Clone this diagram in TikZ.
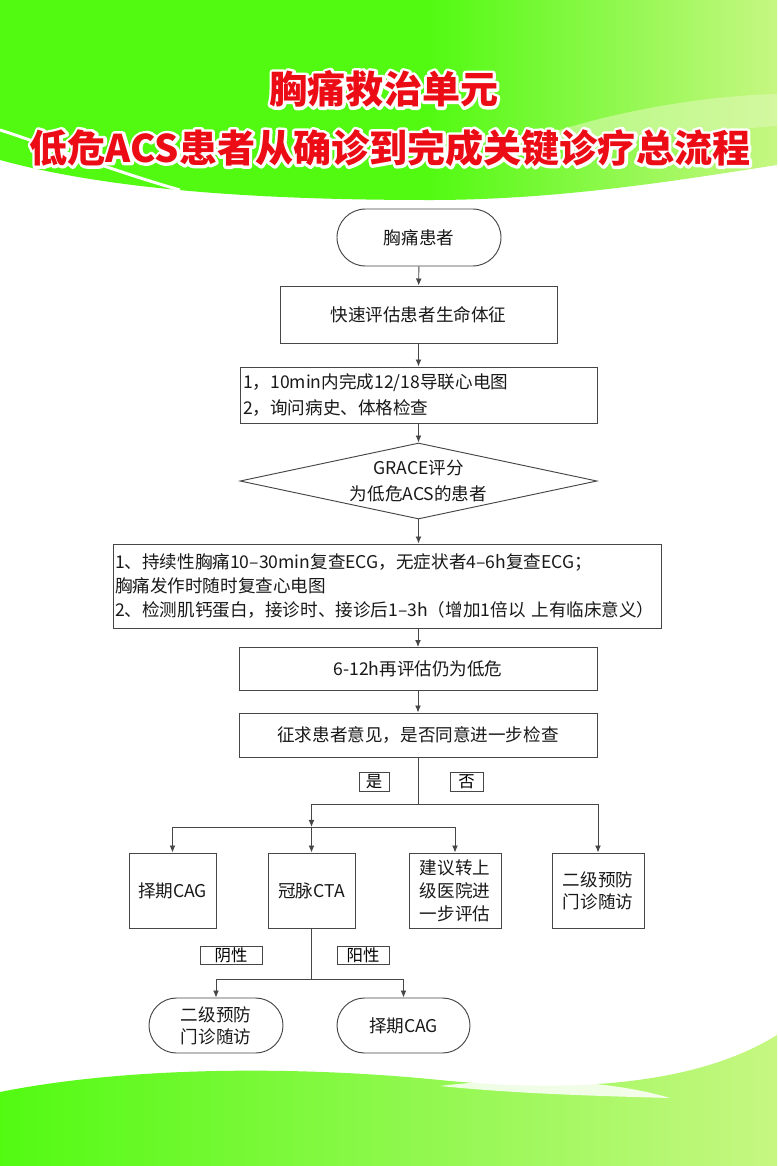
\documentclass[tikz,border=0pt]{standalone}
\usepackage{fontspec}
\setmainfont{Noto Sans CJK SC}
\usetikzlibrary{shapes.geometric,shapes.misc,arrows.meta}
\definecolor{leafgreen}{RGB}{82,250,18}
\definecolor{palegreen}{RGB}{198,247,130}
\definecolor{titlered}{RGB}{236,12,22}
\definecolor{inkgray}{RGB}{70,70,70}
\newcommand{\outlined}[1]{\rlap{\special{pdf:literal direct 1 1 1 RG 5 w 1 j 1 Tr}#1\special{pdf:literal direct 0 Tr}}#1}
\tikzset{
  wh/.style 2 args={minimum width=#1*0.03cm, minimum height=#2*0.03cm},
  base/.style={draw=inkgray, line width=0.8pt, fill=white, inner sep=0pt, align=center,
    text=black!90, font=\fontsize{15}{22}\selectfont},
  box/.style={base, rectangle},
  terminal/.style={base, rounded rectangle},
  decision/.style={base, diamond, shape aspect=4.7},
  tag/.style={draw=inkgray, line width=0.8pt, inner sep=0pt, font=\fontsize{14}{14}\selectfont},
  headline/.style={text=titlered, font=\fontsize{32.5}{34}\selectfont\bfseries},
  flow/.style={draw=inkgray, line width=0.8pt},
  arrow/.style={flow, -{Latex[length=6pt,width=5pt]}}
}
\begin{document}
\begin{tikzpicture}[x=0.03cm, y=-0.03cm]
  \useasboundingbox (0,0) rectangle (777,1166);
  \fill[white] (0,0) rectangle (777,1166);
  % green header and footer
  \fill[leafgreen] (0,0) -- (430,0) -- (430,200) .. controls (260,200) and (110,190) .. (0,160) -- cycle;
  \shade[left color=leafgreen, right color=palegreen]
    (430,0) -- (777,0) -- (777,165) .. controls (680,180) and (560,200) .. (430,200) -- cycle;
  \fill[palegreen!60!white, opacity=0.6] (500,150) .. controls (600,112) and (700,96) .. (777,94)
    -- (777,126) .. controls (700,132) and (600,140) .. (500,150) -- cycle;
  \draw[white, line width=2.5pt] (0,130) .. controls (50,146) and (110,170) .. (180,190);
  \shade[left color=leafgreen, middle color=leafgreen!55!palegreen, right color=palegreen]
    (0,1166) -- (0,1092) .. controls (130,1066) and (300,1066) .. (440,1080)
    .. controls (580,1094) and (700,1083) .. (777,1035) -- (777,1166) -- cycle;
  \fill[white, opacity=0.85] (440,1086) .. controls (520,1076) and (610,1080) .. (670,1098)
    .. controls (600,1096) and (520,1094) .. (440,1086) -- cycle;

  \node[headline] (title1) at (384,89) {\outlined{胸痛救治单元}};
  \node[headline] (title2) at (390,148) {\outlined{低危ACS患者从确诊到完成关键诊疗总流程}};

  \node[terminal, wh={164}{57}] (patient) at (419,237.5) {胸痛患者};
  \node[box, wh={277}{57}] (vitals) at (418.5,314.5) {快速评估患者生命体征};
  \node[box, wh={357}{56}, text width=351*0.03cm, align=left] (ecg) at (418.5,395)
    {1，10min内完成12/18导联心电图\\2，询问病史、体格检查};
  \node[decision, wh={357}{76}] (grace) at (418.5,481) {GRACE评分\\为低危ACS的患者};
  \node[box, wh={548}{84}, text width=544*0.03cm, align=left,
    font=\fontsize{15}{20.4}\selectfont] (recheck) at (387,586)
    {1、持续性胸痛10–30min复查ECG，无症状者4–6h复查ECG；\\胸痛发作时随时复查心电图\\2、检测肌钙蛋白，接诊时、接诊后1–3h（增加1倍以 上有临床意义）};
  \node[box, wh={358}{43}] (reeval) at (418,669) {6-12h再评估仍为低危};
  \node[box, wh={358}{44}] (consent) at (418,735) {征求患者意见，是否同意进一步检查};
  \node[tag, wh={30}{19}] (yes) at (374,781.5) {是};
  \node[tag, wh={33}{19}] (no) at (466.5,781.5) {否};
  \node[box, wh={87}{75}] (cag) at (172.5,890.5) {择期CAG};
  \node[box, wh={87}{75}] (cta) at (311.5,890.5) {冠脉CTA};
  \node[box, wh={92}{75}, font=\fontsize{15}{19.5}\selectfont] (refer) at (455,890.5) {建议转上\\级医院进\\一步评估};
  \node[box, wh={92}{75}, font=\fontsize{15}{19}\selectfont] (follow) at (598,890.5) {二级预防\\门诊随访};
  \node[tag, wh={62}{18}] (neg) at (231,955) {阴性};
  \node[tag, wh={52}{18}] (pos) at (363,955) {阳性};
  \node[terminal, wh={134}{55}, font=\fontsize{15}{19}\selectfont] (follow2) at (216,1025.5) {二级预防\\门诊随访};
  \node[terminal, wh={133}{55}] (cag2) at (403.5,1025.5) {择期CAG};

  \coordinate (fork) at (418,804);
  \coordinate (yesfork) at (311.5,827);
  \coordinate (ctafork) at (311.5,979);

  \draw[arrow] (patient) -- (vitals);
  \draw[arrow] (vitals) -- (ecg);
  \draw[arrow] (ecg) -- (grace);
  \draw[arrow] (grace.south) -- (grace.south |- recheck.north);
  \draw[arrow] (reeval.north |- recheck.south) -- (reeval.north);
  \draw[arrow] (reeval) -- (consent);
  \draw[flow] (consent.south) -- (fork);
  \draw[flow] (fork) -- (yesfork |- fork);
  \draw[arrow] (yesfork |- fork) -- (yesfork);
  \draw[arrow] (fork) -| (follow.north);
  \draw[arrow] (yesfork) -| (cag.north);
  \draw[arrow] (yesfork) -- (cta.north);
  \draw[arrow] (yesfork) -| (refer.north);
  \draw[flow] (cta.south) -- (ctafork);
  \draw[arrow] (ctafork) -| (follow2.north);
  \draw[arrow] (ctafork) -| (cag2.north);
\end{tikzpicture}
\end{document}
